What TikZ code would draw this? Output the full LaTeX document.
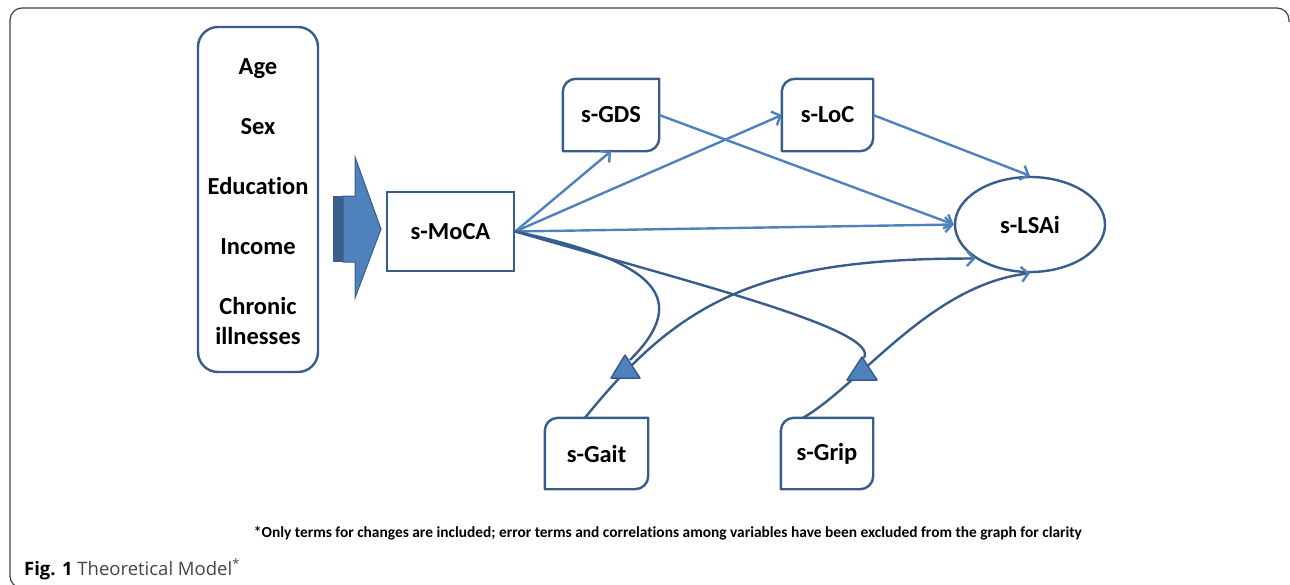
\documentclass[tikz,border=0pt]{standalone}
\usepackage{fontspec}
\setmainfont{Carlito}[Ligatures=NoCommon]
\newfontfamily\capfont{Open Sans}
\usetikzlibrary{arrows.meta,shapes.geometric,calc}
\definecolor{lineblue}{RGB}{79,129,189}
\definecolor{edgeblue}{RGB}{56,93,138}
\definecolor{stubblue}{RGB}{58,95,140}
\definecolor{capgray}{RGB}{70,70,70}

% box with the top-left and bottom-right corners rounded
\newcommand\diagoutline[2][13]{%
  \draw[edgeblue, line width=2.4pt, line join=round]
    ($(#2.north west)+(0,#1)$) arc[start angle=180, end angle=90, radius=#1pt]
    -- (#2.north east) -- ($(#2.south east)+(0,-#1)$)
    arc[start angle=0, end angle=-90, radius=#1pt]
    -- (#2.south west) -- cycle;}

\begin{document}
\begin{tikzpicture}[x=1pt, y=-1pt,
  lbl/.style={font=\fontsize{24.5}{30}\selectfont\bfseries, inner sep=0pt, align=center},
  plainbox/.style={lbl, draw=edgeblue, line width=2.4pt, fill=white},
  diagbox/.style={lbl},
  effect/.style={draw=lineblue, line width=2.4pt,
    -{Straight Barb[length=7pt, width=15pt]}},
  moder/.style={draw=edgeblue, line width=2.4pt},
  moderarrow/.style={moder, -{Straight Barb[length=7pt, width=15pt, color=lineblue]}},
  tri/.style={fill=lineblue, draw=edgeblue, line width=1.5pt, line join=round},
  frame/.style={draw=black!75, line width=1.2pt, rounded corners=12pt}
]
\useasboundingbox (0,0) rectangle (1290,584);

% outer panel frame
\draw[frame] (1289,22) -- (1289,8) -- (10,8) -- (10,588) -- (60,588);

% covariates block
\node[plainbox, rounded corners=20pt, minimum width=120pt, minimum height=345pt]
  (demo) at (258,199.5) {\rule{0pt}{21pt}Age\\[30pt]Sex\\[30pt]Education\\[30pt]Income\\[30pt]Chronic\\illnesses};

% block arrow into s-MoCA
\fill[stubblue] (333,196) rectangle (343,262);
\draw[fill=lineblue, draw=edgeblue, line width=1pt, line join=miter]
  (343,196) -- (355,196) -- (355,157) -- (381,229) -- (355,298) -- (355,262) -- (343,262) -- cycle;

% variable nodes
\node[plainbox, minimum width=127pt, minimum height=79pt] (moca) at (450.5,231.5) {s-MoCA};
\node[diagbox, minimum width=96pt, minimum height=72pt] (gds) at (611,115) {s-GDS};
\node[diagbox, minimum width=91pt, minimum height=72pt] (loc) at (827.5,115) {s-LoC};
\node[diagbox, minimum width=103pt, minimum height=71pt] (gait) at (596.5,453.5) {s-Gait};
\node[diagbox, minimum width=92pt, minimum height=71pt] (grip) at (827,453.5) {s-Grip};
\node[lbl, ellipse, draw=edgeblue, line width=2.4pt, minimum width=150pt, minimum height=95pt]
  (lsai) at (1030,224.5) {s-LSAi};
\diagoutline{gds}
\diagoutline{loc}
\diagoutline{gait}
\diagoutline{grip}

% moderator markers
\coordinate (gaitmod) at (630,360);
\coordinate (gripmod) at (864,358);

% direct paths
\draw[effect] (moca.east) -- (gds.south);
\draw[effect] (moca.east) -- (loc.west);
\draw[effect] (gds.east) -- (lsai.west);
\draw[effect] (loc.east) -- (lsai.north);
\draw[effect] (moca.east) -- (lsai.west);

% moderated paths
\draw[moder] (moca.east) .. controls (660,262) and (690,300) .. (gaitmod);
\draw[moder] (moca.east) .. controls (700,285) and (880,330) .. (gripmod);
\draw[moderarrow] ([xshift=-11.5pt]gait.north) .. controls (680,300) and (760,258) .. (lsai.212);
\draw[moderarrow] ([xshift=-24pt]grip.north) .. controls (860,385) and (930,285) .. (lsai.south);

\draw[tri] (611,378) -- (625,355) -- (640,378) -- cycle;
\draw[tri] (847,380) -- (862,357) -- (877,380) -- cycle;

% notes
\node[anchor=base, inner sep=0pt, font=\fontsize{15.4}{17}\selectfont\bfseries] (note) at (668,537)
  {*Only terms for changes are included; error terms and correlations among variables have been excluded from the graph for clarity};
\node[anchor=base west, inner sep=0pt, font=\capfont\fontsize{18.5}{21}\selectfont] (cap) at (24,575)
  {\textbf{Fig. 1} \textcolor{capgray}{Theoretical Model}\textsuperscript{\textcolor{capgray}{*}}};
\end{tikzpicture}
\end{document}
